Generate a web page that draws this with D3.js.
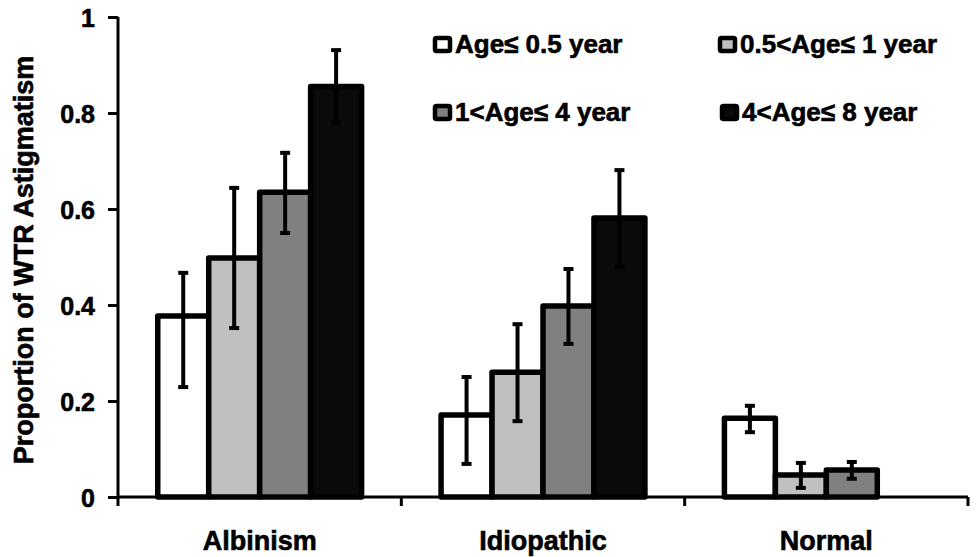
<!DOCTYPE html>
<html>
<head>
<meta charset="utf-8">
<script src="https://cdn.jsdelivr.net/npm/d3@7"></script>
<style>
  html, body { margin: 0; padding: 0; background: #fff; }
  svg text { font-family: "Liberation Sans", Arial, sans-serif; font-weight: bold; fill: #000; stroke: #000; stroke-width: 0.6px; }
</style>
</head>
<body>
<svg id="chart" width="976" height="557"></svg>
<script>
// Groups and age bands
const categories = ["Albinism", "Idiopathic", "Normal"];
const series = ["Age\u2264 0.5 year", "0.5<Age\u2264 1 year", "1<Age\u2264 4 year", "4<Age\u2264 8 year"];
const seriesColors = ["#ffffff", "#c0c0c0", "#808080", "#0a0a0a"];

// Proportion of WTR astigmatism per group (rows) and age band (columns)
const values = [
  [0.377, 0.498, 0.635, 0.855],
  [0.171, 0.260, 0.398, 0.581],
  [0.164, 0.046, 0.056, 0.000]
];
// Error bar ends
const upper = [
  [0.467, 0.644, 0.717, 0.931],
  [0.250, 0.360, 0.475, 0.681],
  [0.190, 0.071, 0.073, 0.000]
];
const lower = [
  [0.229, 0.352, 0.550, 0.780],
  [0.069, 0.158, 0.319, 0.480],
  [0.135, 0.019, 0.038, 0.000]
];
const yTicks = [0, 0.2, 0.4, 0.6, 0.8, 1];

const svg = d3.select("#chart");
const plot = { left: 118, right: 968, top: 17, bottom: 497 };

const x0 = d3.scaleBand().domain(categories).range([plot.left, plot.right]).paddingInner(0).paddingOuter(0);
const x1 = d3.scaleBand().domain(series).range([0, x0.bandwidth()]).paddingInner(0).paddingOuter(0.78);
const y = d3.scaleLinear().domain([0, 1]).range([plot.bottom, plot.top]);
const color = d3.scaleOrdinal().domain(series).range(seriesColors);

// Flatten into bar records
const bars = [];
categories.forEach((c, i) => series.forEach((s, j) => {
  bars.push({ cat: c, ser: s, v: values[i][j], hi: upper[i][j], lo: lower[i][j] });
}));

// Bars
svg.append("g").selectAll("rect")
  .data(bars.filter(d => d.v > 0))
  .join("rect")
  .attr("x", d => x0(d.cat) + x1(d.ser))
  .attr("y", d => y(d.v))
  .attr("width", x1.bandwidth())
  .attr("height", d => y(0) - y(d.v))
  .attr("fill", d => color(d.ser))
  .attr("stroke", "#000")
  .attr("stroke-width", 5.5)
  .attr("stroke-linejoin", "round");

// Y axis
const yAxis = svg.append("g")
  .attr("transform", `translate(${plot.left},0)`)
  .call(d3.axisLeft(y).tickValues(yTicks).tickSize(10).tickPadding(13).tickFormat(d => String(d)));
yAxis.select(".domain").attr("stroke-width", 3).attr("d", `M0,${plot.top}V${plot.bottom}`);
yAxis.selectAll(".tick line").attr("stroke-width", 3);
yAxis.selectAll(".tick text").style("font-size", "25px").attr("dy", "0.36em");

// X axis line with boundary ticks
const xAxis = svg.append("g");
xAxis.append("line")
  .attr("x1", plot.left).attr("x2", plot.right)
  .attr("y1", y(0)).attr("y2", y(0))
  .attr("stroke", "#000").attr("stroke-width", 3);
const bounds = categories.map(c => x0(c)).concat([plot.right]);
xAxis.selectAll("line.b").data(bounds).join("line")
  .attr("class", "b")
  .attr("x1", d => d).attr("x2", d => d)
  .attr("y1", y(0)).attr("y2", y(0) + 9)
  .attr("stroke", "#000").attr("stroke-width", 3);
xAxis.selectAll("text").data(categories).join("text")
  .attr("x", d => x0(d) + x0.bandwidth() / 2)
  .attr("y", 550)
  .attr("text-anchor", "middle")
  .style("font-size", "27px")
  .text(d => d);

// Error bars
const eb = svg.append("g").selectAll("g")
  .data(bars.filter(d => d.v > 0))
  .join("g")
  .attr("transform", d => `translate(${x0(d.cat) + x1(d.ser) + x1.bandwidth() / 2},0)`);
eb.append("line")
  .attr("y1", d => y(d.hi)).attr("y2", d => y(d.lo))
  .attr("stroke", "#000").attr("stroke-width", 4);
eb.append("line")
  .attr("x1", -5).attr("x2", 5)
  .attr("y1", d => y(d.hi)).attr("y2", d => y(d.hi))
  .attr("stroke", "#000").attr("stroke-width", 4);
eb.append("line")
  .attr("x1", -5).attr("x2", 5)
  .attr("y1", d => y(d.lo)).attr("y2", d => y(d.lo))
  .attr("stroke", "#000").attr("stroke-width", 4);

// Y axis title
svg.append("text")
  .attr("transform", `translate(33,${(plot.top + plot.bottom) / 2 + 3}) rotate(-90)`)
  .attr("text-anchor", "middle")
  .style("font-size", "27px")
  .text("Proportion of WTR Astigmatism");

// Legend: 2 x 2 grid
const legendPos = [[433, 36], [718, 36], [433, 104], [720, 104]];
const leg = svg.append("g").selectAll("g")
  .data(series)
  .join("g")
  .attr("transform", (d, i) => `translate(${legendPos[i][0]},${legendPos[i][1]})`);
leg.append("rect")
  .attr("x", 2).attr("y", 2)
  .attr("width", 15).attr("height", 13)
  .attr("fill", d => color(d))
  .attr("stroke", "#000")
  .attr("stroke-width", 4.5)
  .attr("rx", 1.5);
leg.append("text")
  .attr("x", 22)
  .attr("y", 17)
  .style("font-size", "26px")
  .text(d => d);
</script>
</body>
</html>
